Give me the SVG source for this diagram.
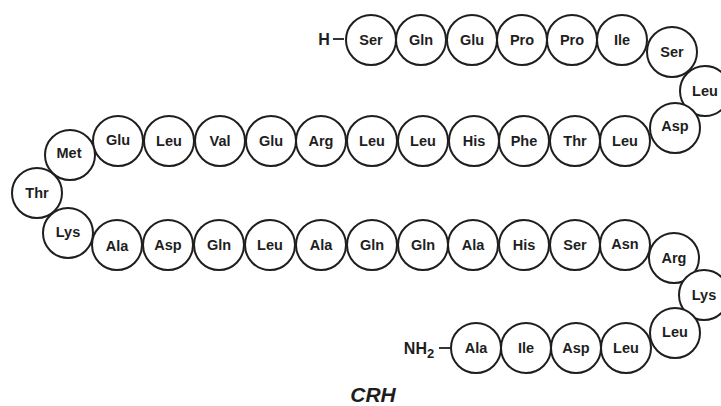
<svg xmlns="http://www.w3.org/2000/svg" width="721" height="406" viewBox="0 0 721 406">
  <defs>
    <style>
      .res circle { fill: #ffffff; stroke: #1e1e1e; stroke-width: 2; }
      .res text { font-family: "Liberation Sans", Arial, sans-serif; font-weight: bold; font-size: 14.5px; fill: #1e1e1e; text-anchor: middle; }
      .lbl { font-family: "Liberation Sans", Arial, sans-serif; font-weight: bold; font-size: 16px; fill: #1e1e1e; text-anchor: middle; }
      .link { stroke: #1e1e1e; stroke-width: 1.8; fill: none; }
      .title { font-family: "Liberation Sans", Arial, sans-serif; font-weight: bold; font-style: italic; font-size: 21px; fill: #1e1e1e; text-anchor: middle; }
    </style>
  </defs>
  <rect width="721" height="406" fill="#ffffff"/>

  <!-- terminal bonds -->
  <g id="connectors">
    <line class="link" x1="333" y1="39" x2="344" y2="39"/>
    <line class="link" x1="439" y1="348" x2="450" y2="348"/>
  </g>

  <!-- N-terminus -->
  <g id="n-term"><text class="lbl" x="324" y="45">H</text></g>

  <!-- row 1: residues 1-6 -->
  <g id="r1" class="res"><circle cx="371" cy="40" r="25"/><text x="371" y="45">Ser</text></g>
  <g id="r2" class="res"><circle cx="421" cy="40" r="25"/><text x="421" y="45">Gln</text></g>
  <g id="r3" class="res"><circle cx="472" cy="40" r="25"/><text x="472" y="45">Glu</text></g>
  <g id="r4" class="res"><circle cx="522" cy="40" r="25"/><text x="522" y="45">Pro</text></g>
  <g id="r5" class="res"><circle cx="572" cy="40" r="25"/><text x="572" y="45">Pro</text></g>
  <g id="r6" class="res"><circle cx="622" cy="40" r="25"/><text x="622" y="45">Ile</text></g>

  <!-- right turn: residues 7-9 -->
  <g id="r7" class="res"><circle cx="672" cy="52" r="25"/><text x="672" y="57">Ser</text></g>
  <g id="r8" class="res"><circle cx="705" cy="91" r="25"/><text x="705" y="96">Leu</text></g>
  <g id="r9" class="res"><circle cx="675" cy="128" r="25"/><text x="675" y="131">Asp</text></g>

  <!-- row 2: residues 10-20 (right to left) -->
  <g id="r10" class="res"><circle cx="625" cy="141" r="25"/><text x="625" y="146">Leu</text></g>
  <g id="r11" class="res"><circle cx="575" cy="141" r="25"/><text x="575" y="146">Thr</text></g>
  <g id="r12" class="res"><circle cx="524" cy="141" r="25"/><text x="524" y="146">Phe</text></g>
  <g id="r13" class="res"><circle cx="474" cy="141" r="25"/><text x="474" y="146">His</text></g>
  <g id="r14" class="res"><circle cx="423" cy="141" r="25"/><text x="423" y="146">Leu</text></g>
  <g id="r15" class="res"><circle cx="372" cy="141" r="25"/><text x="372" y="146">Leu</text></g>
  <g id="r16" class="res"><circle cx="321" cy="141" r="25"/><text x="321" y="146">Arg</text></g>
  <g id="r17" class="res"><circle cx="271" cy="141" r="25"/><text x="271" y="146">Glu</text></g>
  <g id="r18" class="res"><circle cx="220" cy="141" r="25"/><text x="220" y="146">Val</text></g>
  <g id="r19" class="res"><circle cx="169" cy="141" r="25"/><text x="169" y="146">Leu</text></g>
  <g id="r20" class="res"><circle cx="118" cy="141" r="25"/><text x="118" y="145">Glu</text></g>

  <!-- left turn: residues 21-23 -->
  <g id="r21" class="res"><circle cx="70" cy="155" r="25"/><text x="69" y="158">Met</text></g>
  <g id="r22" class="res"><circle cx="37" cy="193" r="25"/><text x="37" y="198">Thr</text></g>
  <g id="r23" class="res"><circle cx="68" cy="233" r="25"/><text x="68" y="237">Lys</text></g>

  <!-- row 3: residues 24-34 (left to right) -->
  <g id="r24" class="res"><circle cx="117" cy="245" r="25"/><text x="117" y="251">Ala</text></g>
  <g id="r25" class="res"><circle cx="168" cy="245" r="25"/><text x="168" y="250">Asp</text></g>
  <g id="r26" class="res"><circle cx="219" cy="245" r="25"/><text x="219" y="250">Gln</text></g>
  <g id="r27" class="res"><circle cx="270" cy="245" r="25"/><text x="270" y="250">Leu</text></g>
  <g id="r28" class="res"><circle cx="321" cy="245" r="25"/><text x="321" y="250">Ala</text></g>
  <g id="r29" class="res"><circle cx="372" cy="245" r="25"/><text x="372" y="250">Gln</text></g>
  <g id="r30" class="res"><circle cx="423" cy="245" r="25"/><text x="423" y="250">Gln</text></g>
  <g id="r31" class="res"><circle cx="473" cy="245" r="25"/><text x="473" y="250">Ala</text></g>
  <g id="r32" class="res"><circle cx="524" cy="245" r="25"/><text x="524" y="250">His</text></g>
  <g id="r33" class="res"><circle cx="575" cy="245" r="25"/><text x="575" y="250">Ser</text></g>
  <g id="r34" class="res"><circle cx="625" cy="245" r="25"/><text x="625" y="249">Asn</text></g>

  <!-- right turn: residues 35-37 -->
  <g id="r35" class="res"><circle cx="674" cy="258" r="25"/><text x="674" y="263">Arg</text></g>
  <g id="r36" class="res"><circle cx="704" cy="295" r="25"/><text x="704" y="300">Lys</text></g>
  <g id="r37" class="res"><circle cx="675" cy="333" r="25"/><text x="675" y="337">Leu</text></g>

  <!-- row 4: residues 38-41 (right to left) -->
  <g id="r38" class="res"><circle cx="626" cy="348" r="25"/><text x="626" y="353">Leu</text></g>
  <g id="r39" class="res"><circle cx="576" cy="348" r="25"/><text x="576" y="353">Asp</text></g>
  <g id="r40" class="res"><circle cx="526" cy="348" r="25"/><text x="526" y="353">Ile</text></g>
  <g id="r41" class="res"><circle cx="476" cy="348" r="25"/><text x="476" y="353">Ala</text></g>

  <!-- C-terminus amide -->
  <g id="c-term"><text class="lbl" x="419" y="354">NH<tspan font-size="13" dy="4">2</tspan></text></g>

  <text class="title" x="373" y="402">CRH</text>
</svg>
